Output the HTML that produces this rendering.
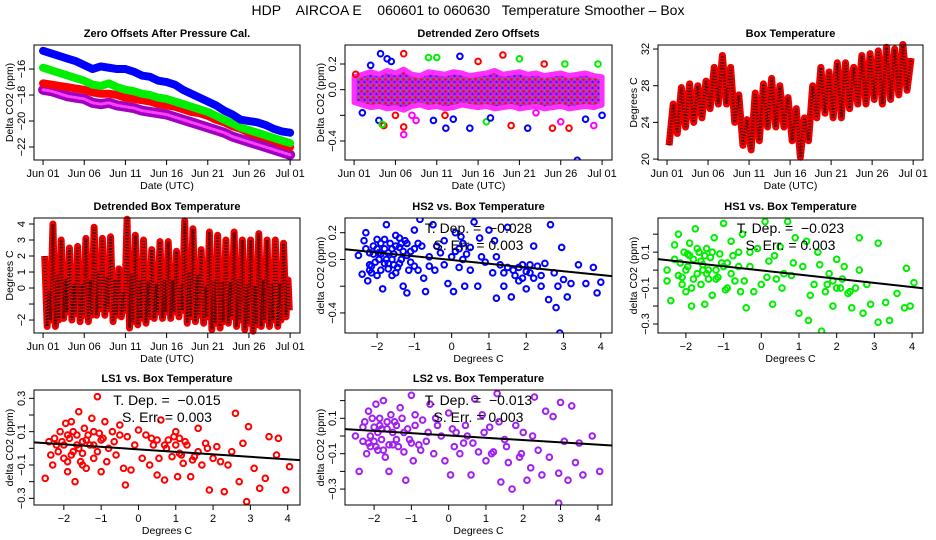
<!DOCTYPE html>
<html><head><meta charset="utf-8"><style>
html,body{margin:0;padding:0;background:#fff;}
svg{display:block;font-family:"Liberation Sans",sans-serif;}
</style></head><body>
<svg id="chart" width="936" height="540" viewBox="0 0 936 540" xmlns="http://www.w3.org/2000/svg">
<defs>
<pattern id="mixdots" width="6" height="6" patternUnits="userSpaceOnUse">
<rect width="6" height="6" fill="#d020e0"/>
<circle cx="1.5" cy="1.5" r="1.2" fill="#ff0000"/>
<circle cx="4.5" cy="4" r="1.1" fill="#2020ff"/>
<circle cx="4.5" cy="1" r="0.8" fill="#00e000"/>
</pattern>
</defs>
<text x="468" y="15" text-anchor="middle" font-size="14" style="white-space:pre">HDP    AIRCOA E    060601 to 060630   Temperature Smoother – Box</text>
<g id="root"></g>
</svg>
<script>
// ---------- data ----------
const dateTicks = [0,5,10,15,20,25,30];
const dateLabels = ["Jun 01","Jun 06","Jun 11","Jun 16","Jun 21","Jun 26","Jul 01"];
const blueOffsets = [-14.6,-14.8,-15.0,-15.2,-15.4,-15.7,-16.0,-15.8,-15.9,-16.0,-16.0,-16.2,-16.5,-16.6,-16.9,-17.0,-17.2,-17.6,-17.9,-18.2,-18.5,-18.8,-19.2,-19.5,-19.9,-20.0,-20.1,-20.3,-20.6,-20.8,-20.9];
const greenOffsets = [-15.9,-16.1,-16.3,-16.5,-16.7,-16.9,-17.2,-17.3,-17.1,-17.4,-17.6,-17.7,-17.9,-18.0,-18.2,-18.3,-18.5,-18.7,-18.9,-19.1,-19.3,-19.6,-19.9,-20.2,-20.5,-20.7,-20.9,-21.1,-21.3,-21.5,-21.7];
const redOffsets = [-17.1,-17.2,-17.3,-17.4,-17.5,-17.6,-17.8,-17.9,-17.9,-18.0,-18.2,-18.3,-18.4,-18.5,-18.7,-18.8,-18.9,-19.1,-19.3,-19.4,-19.6,-19.9,-20.1,-20.4,-20.6,-20.9,-21.1,-21.3,-21.5,-21.8,-22.0];
const magentaOffsets = [-17.6,-17.7,-17.9,-18.1,-18.2,-18.3,-18.6,-18.7,-18.6,-18.8,-18.9,-19.0,-19.2,-19.3,-19.4,-19.5,-19.7,-19.9,-20.1,-20.3,-20.5,-20.7,-20.9,-21.2,-21.4,-21.6,-21.8,-22.0,-22.2,-22.4,-22.6];
const bandTop = [0.1,0.12,0.14,0.12,0.15,0.13,0.16,0.12,0.11,0.14,0.13,0.12,0.14,0.13,0.11,0.12,0.13,0.15,0.12,0.13,0.14,0.12,0.13,0.11,0.12,0.13,0.11,0.12,0.13,0.11,0.1];
const bandBottom = [-0.1,-0.12,-0.14,-0.13,-0.15,-0.14,-0.16,-0.13,-0.12,-0.14,-0.13,-0.15,-0.14,-0.12,-0.13,-0.14,-0.13,-0.15,-0.14,-0.13,-0.15,-0.14,-0.13,-0.15,-0.14,-0.13,-0.15,-0.14,-0.13,-0.14,-0.12];
const outDays = [0.2,1,2,3.2,3,3.6,3.4,4,4.5,5,6,6,6,7,7.5,9,9.6,10,11,12,12.8,11.1,14,15,16,16.5,18,19,20,21,22,23,24,25,25.5,26,27,28,29,29.5,30];
const outVals = [0.12,-0.18,0.19,0.28,-0.24,-0.28,-0.27,0.24,0.22,-0.2,0.28,-0.35,-0.29,-0.2,-0.24,0.25,-0.24,0.25,-0.2,-0.23,0.26,-0.3,-0.3,0.22,-0.25,-0.22,0.27,-0.28,0.24,-0.3,-0.18,0.2,-0.3,-0.25,0.2,-0.3,-0.55,-0.23,-0.28,0.2,-0.2];
const outSeries = ["r","b","b","b","b","r","g","b","b","r","r","m","r","m","m","g","b","g","r","b","b","b","b","r","g","b","r","r","g","b","m","r","r","m","g","r","b","b","m","g","b"];
const tempLow = [21.5,22.8,23.5,24,24.5,25.5,26,26,24,21.5,21,22,23.5,23.5,23.5,22,20.2,22,24.5,25,24.5,24.5,25.5,26,26,26.5,26,26.5,27,27.5];
const tempHigh = [26,27.8,28.2,28,28.5,30,31.3,30,27,24.3,27.2,28.2,28.8,28,26.7,25.5,24.5,28,30,29.5,30.5,30.5,30,31.3,31.5,31.8,32.2,32,32.5,31];
const dtHigh = [2,4,3,2.5,2.6,3.1,3.8,3.1,3.2,1.2,4.3,3.3,3,2.4,2.9,2.9,2.3,4.2,3.7,2.4,3.5,3.3,3,3.5,3,3,3.4,3,3,2.8];
const dtLow = [-2.4,-2.4,-1.9,-2.0,-2.1,-2.1,-1.7,-1.7,-2.1,-1.8,-2.5,-2.3,-2.2,-1.9,-1.9,-1.9,-1.8,-2.2,-2.1,-2.2,-2.6,-2.5,-2.2,-2.4,-2.6,-2.7,-2.4,-2.4,-2.4,-1.8];

const hs2X = [-2.5,-2.4,-2.35,-2.3,-2.25,-2.2,-2.15,-2.1,-2.05,-2.0,-1.95,-1.9,-1.85,-1.8,-1.75,-1.7,-1.65,-1.6,-1.55,-1.5,-1.45,-1.4,-1.35,-1.3,-1.25,-1.2,-1.1,-1.0,-0.9,-0.85,-0.8,-0.75,-0.7,-0.6,-0.5,-0.45,-0.3,-0.2,-0.1,0.0,0.05,0.1,0.2,0.3,0.35,0.4,0.5,0.6,0.7,0.75,0.9,1.0,1.1,1.15,1.2,1.3,1.4,1.5,1.6,1.65,1.8,1.9,2.0,2.1,2.2,2.3,2.4,2.5,2.6,2.65,2.75,2.8,2.85,2.9,2.95,3.0,3.1,3.2,3.4,3.6,3.8,3.9,4.0,-2.2,-2.0,-1.9,-1.8,-1.7,-1.6,-1.5,-1.4,-1.2,-1.0,-0.9,-0.6,0.2,0.25,1.7,1.9,2.2,2.0,1.5,0.8,-2.3,-2.2,-2.1,-2.0,-1.9,-1.8,-1.7,-1.6,-1.5,-1.4,-1.3,-1.2,-1.1,-1.0,-2.15,-1.95,-1.75,-1.55,-1.35,-1.15,-0.4,-0.2,0.1,0.3,0.5,1.2,1.4,1.8,2.1,2.4];
const hs2Y = [0.03,-0.11,0.14,0.2,-0.16,0.05,-0.05,0.1,-0.02,0.15,0.0,-0.08,-0.22,0.08,0.26,-0.03,0.12,-0.12,0.04,0.18,-0.06,0.09,0.0,-0.2,0.14,-0.25,0.06,0.22,-0.08,0.3,0.1,-0.14,-0.24,0.02,0.26,-0.08,0.05,0.14,-0.18,0.02,-0.24,0.2,-0.06,0.12,-0.2,0.04,-0.08,0.28,-0.2,0.16,-0.02,0.22,-0.1,0.14,-0.29,-0.04,-0.2,0.24,-0.28,-0.08,-0.16,-0.04,-0.22,-0.1,0.1,-0.05,-0.2,-0.03,-0.3,0.26,-0.1,-0.36,-0.2,-0.55,0.09,-0.15,-0.28,-0.18,-0.04,-0.18,-0.06,-0.25,-0.17,-0.08,-0.12,0.12,-0.03,0.05,0.0,-0.1,0.16,0.03,-0.05,0.12,-0.05,0.08,0.17,-0.12,-0.14,-0.14,-0.09,-0.06,0.02,0.08,-0.04,0.04,0.08,0.04,0.15,-0.07,0.08,0.1,-0.03,0.06,0.12,-0.02,0.08,-0.1,0.05,0.0,-0.04,0.12,-0.08,0.1,-0.04,0.06,0.0,0.09,0.02,-0.1,-0.06,-0.04,-0.12];
const hs1X = [-2.5,-2.5,-2.4,-2.3,-2.2,-2.15,-2.1,-2.05,-2.0,-1.95,-1.9,-1.85,-1.8,-1.75,-1.7,-1.65,-1.6,-1.55,-1.5,-1.45,-1.4,-1.35,-1.3,-1.25,-1.2,-1.1,-1.0,-0.95,-0.9,-0.8,-0.7,-0.6,-0.55,-0.5,-0.4,-0.3,-0.2,-0.1,0.0,0.1,0.2,0.3,0.4,0.5,0.7,0.8,0.9,1.0,1.1,1.2,1.25,1.4,1.5,1.6,1.7,1.8,1.9,2.0,2.1,2.2,2.3,2.4,2.6,2.6,2.7,2.8,2.9,3.1,3.1,3.3,3.4,3.6,3.8,3.85,3.95,4.05,-2.0,-1.8,-1.6,-1.4,-1.2,-1.0,-0.8,-2.2,-1.9,-1.5,0.6,1.9,2.0,-2.3,-2.1,-1.95,-1.85,-1.7,-1.55,-1.45,-1.3,-1.15,-1.05,-0.9,-0.75,-0.6,-0.45,-0.3,0.15,0.35,0.55,0.85,1.3,1.55,1.75,2.15,2.35,2.5];
const hs1Y = [0.0,-0.06,-0.17,0.14,0.2,0.04,-0.04,0.1,-0.12,0.02,0.15,-0.2,0.06,0.23,-0.02,0.1,-0.08,0.03,-0.19,0.12,-0.05,0.07,-0.14,0.18,0.0,0.09,0.26,-0.11,0.04,0.16,-0.06,0.1,-0.12,0.2,-0.21,0.02,-0.12,0.12,-0.08,0.27,0.05,-0.19,-0.05,0.13,0.27,-0.03,0.18,-0.24,0.02,0.16,-0.28,-0.08,0.1,-0.34,-0.12,-0.02,-0.2,0.06,-0.1,0.02,-0.13,-0.21,0.0,0.18,-0.24,-0.08,-0.19,0.15,-0.29,-0.18,-0.28,-0.13,-0.21,0.01,-0.2,-0.07,0.0,-0.05,0.05,0.0,-0.05,0.02,-0.02,-0.03,0.08,0.08,-0.02,-0.06,-0.1,0.06,-0.08,0.09,-0.1,0.12,0.0,-0.02,0.1,-0.04,0.04,-0.1,0.08,0.02,-0.06,0.1,-0.04,0.08,-0.1,0.04,-0.14,0.03,-0.08,-0.05,-0.12,-0.1];
const ls1X = [-2.5,-2.4,-2.35,-2.3,-2.2,-2.1,-2.0,-1.95,-1.9,-1.85,-1.8,-1.75,-1.7,-1.65,-1.6,-1.55,-1.5,-1.45,-1.4,-1.3,-1.25,-1.2,-1.1,-1.05,-1.0,-0.9,-0.8,-0.7,-0.6,-0.5,-0.4,-0.35,-0.3,-0.2,-0.1,0.0,0.1,0.2,0.3,0.4,0.5,0.6,0.7,0.8,0.9,1.0,1.05,1.1,1.2,1.3,1.4,1.5,1.6,1.7,1.8,1.9,2.0,2.1,2.3,2.4,2.5,2.6,2.7,2.8,2.9,2.95,3.1,3.25,3.4,3.5,3.7,3.75,3.95,4.05,-2.0,-1.8,-1.6,-1.4,-1.2,-1.0,-1.9,-1.5,0.5,0.7,1.0,1.1,-2.25,-2.15,-2.05,-1.9,-1.75,-1.65,-1.5,-1.35,-1.2,-1.1,-0.95,-0.85,-0.65,-0.5,0.35,0.55,0.75,0.95,1.15,1.25,1.45,1.6,1.85,2.2];
const ls1Y = [-0.18,0.04,-0.04,-0.1,0.02,0.1,-0.06,0.15,-0.14,0.06,0.16,-0.02,-0.2,0.08,0.22,-0.08,0.04,0.12,-0.12,0.02,0.18,-0.06,0.31,0.09,-0.14,0.16,0.0,0.1,-0.04,0.14,-0.12,-0.22,0.07,-0.13,0.02,0.11,-0.06,0.08,-0.1,0.02,-0.16,0.17,-0.19,0.05,-0.05,0.1,-0.17,0.06,-0.09,0.02,-0.17,-0.05,0.12,-0.1,0.03,-0.25,-0.06,0.01,-0.26,-0.1,-0.02,0.21,-0.2,0.03,-0.32,0.13,-0.12,-0.24,-0.18,0.07,-0.04,0.06,-0.25,-0.11,0.02,-0.04,0.0,0.05,0.02,0.05,0.08,-0.03,0.05,0.02,0.02,-0.03,0.06,-0.02,0.04,-0.08,0.1,0.02,-0.1,0.08,0.1,-0.02,0.06,-0.08,0.04,0.08,0.06,-0.06,0.0,0.07,-0.04,0.04,-0.07,-0.02,0.0,-0.08];
const ls2X = [-2.5,-2.4,-2.3,-2.25,-2.2,-2.15,-2.1,-2.0,-1.95,-1.9,-1.85,-1.8,-1.75,-1.7,-1.65,-1.6,-1.55,-1.5,-1.45,-1.4,-1.3,-1.2,-1.15,-1.1,-1.0,-0.95,-0.9,-0.8,-0.7,-0.6,-0.5,-0.4,-0.3,-0.2,-0.1,0.0,0.05,0.1,0.3,0.5,0.6,0.7,0.8,0.9,1.0,1.1,1.2,1.3,1.4,1.5,1.6,1.7,1.8,1.9,2.0,2.1,2.2,2.3,2.4,2.5,2.6,2.7,2.8,2.95,2.95,3.0,3.1,3.2,3.3,3.4,3.5,3.6,3.85,4.05,-2.0,-1.8,-1.6,-1.4,-1.2,-1.0,-1.9,-2.1,0.2,0.4,-2.3,-2.15,-2.05,-1.95,-1.85,-1.75,-1.65,-1.5,-1.35,-1.25,-1.05,-0.9,-0.75,-0.55,-0.35,0.15,0.45,0.65,0.95,1.15,1.35,1.55,1.95,2.25];
const ls2Y = [0.0,-0.2,-0.03,0.08,-0.1,0.14,-0.06,0.05,0.18,-0.08,0.1,-0.02,0.2,-0.12,0.04,-0.2,0.12,-0.05,0.08,-0.02,0.16,-0.09,-0.25,0.04,0.23,-0.14,0.12,-0.05,0.09,-0.03,0.18,-0.1,0.06,0.0,-0.14,0.13,-0.22,0.04,-0.1,0.0,-0.22,0.21,-0.09,0.12,-0.14,0.05,-0.09,0.24,-0.26,-0.02,-0.15,-0.3,0.06,-0.12,0.02,-0.25,-0.18,0.22,-0.08,-0.22,0.14,-0.12,0.11,-0.21,-0.38,0.19,-0.03,-0.25,0.17,-0.15,-0.04,-0.22,0.0,-0.2,-0.03,0.04,-0.05,0.06,0.02,-0.04,0.02,0.0,0.02,-0.04,0.05,-0.04,0.1,-0.06,0.06,-0.08,0.08,0.02,-0.06,0.1,-0.02,0.06,-0.08,0.02,0.1,-0.06,0.06,-0.04,0.02,-0.1,0.08,-0.06,-0.1,0.0];
const slopes = [-0.028,-0.023,-0.015,-0.013];
const intercepts = [-0.004,-0.002,-0.006,0.003];
const depLabels = ["−0.028","−0.023","−0.015","−0.013"];
const errLabels = ["0.003","0.003","0.003","0.003"];
const degTicks = [-2,-1,0,1,2,3,4];

// ---------- helpers ----------
const NS="http://www.w3.org/2000/svg";
const root=document.getElementById('root');
function mk(tag,attrs,parent){const e=document.createElementNS(NS,tag);for(const k in attrs)e.setAttribute(k,attrs[k]);(parent||root).appendChild(e);return e;}
function fmt(v){return String(v).replace('-','−');}
function panel(name,box,xd,yd){
  const g=mk('g',{});
  
  
  const sx=v=>box[0]+(v-xd[0])/(xd[1]-xd[0])*(box[2]-box[0]);
  const sy=v=>box[3]-(v-yd[0])/(yd[1]-yd[0])*(box[3]-box[1]);
  return {g,sx,sy,box};
}
function frame(p,title,xt,xl,yt,yl,xlab,ylab){
  const [l,t,r,b]=p.box;
  const fr=mk('rect',{x:l,y:t,width:r-l,height:b-t,fill:'none',stroke:'#000','stroke-width':1},p.g);
  
  
  const tt=mk('text',{x:(l+r)/2,y:t-8,'text-anchor':'middle','font-size':11,'font-weight':'bold'},p.g);
  tt.textContent=title;
  
  
  const xa=mk('g',{},p.g);
  
  
  xt.forEach((v,i)=>{const x=p.sx(v);mk('line',{x1:x,x2:x,y1:b,y2:b+5,stroke:'#000'},xa);
    const tx=mk('text',{x:x,y:b+17,'text-anchor':'middle','font-size':11},xa);tx.textContent=xl[i];
    
    });
  const ya=mk('g',{},p.g);
  
  
  yt.forEach((v,i)=>{const y=p.sy(v);mk('line',{x1:l-5,x2:l,y1:y,y2:y,stroke:'#000'},ya);
    if(yl[i]!==''){const tx=mk('text',{x:l-9,y:y,'text-anchor':'middle','font-size':11,transform:`rotate(-90 ${l-9} ${y})`},ya);tx.textContent=yl[i];
    
    }});
  const xt2=mk('text',{x:(l+r)/2,y:b+29,'text-anchor':'middle','font-size':10.5},p.g);xt2.textContent=xlab;
  
  
  const yx=l-21,yy=(t+b)/2;
  const yt2=mk('text',{x:yx,y:yy,'text-anchor':'middle','font-size':10.5,transform:`rotate(-90 ${yx} ${yy})`},p.g);yt2.textContent=ylab;
  
  
}
function clip(p,id){const c=mk('clipPath',{id:id},p.g);mk('rect',{x:p.box[0],y:p.box[1],width:p.box[2]-p.box[0],height:p.box[3]-p.box[1]},c);return mk('g',{'clip-path':`url(#${id})`},p.g);}
function series(p,arr,color,w,parent,name){
  const pts=arr.map((v,i)=>p.sx(i)+','+p.sy(v)).join(' ');
  const pl=mk('polyline',{points:pts,fill:'none',stroke:color,'stroke-width':w,'stroke-linejoin':'round','stroke-linecap':'round'},parent||p.g);
  
  
  return pl;
}
const TD=[-1.1,31.2];
// Panel 1
{const p=panel('zero-offsets-panel',[34,45,300,160],TD,[-23,-14.15]);
 series(p,magentaOffsets,'#a000c0',10,null,'ls2-offset-series');
 series(p,magentaOffsets,'#ff40ff',3,null,'ls2-offset-highlight').setAttribute('stroke-dasharray','2 2');
 series(p,redOffsets,'#ff0000',8,null,'ls1-offset-series');
 series(p,greenOffsets,'#00ee00',8,null,'hs1-offset-series');
 series(p,blueOffsets,'#0000ff',8,null,'hs2-offset-series');
 frame(p,'Zero Offsets After Pressure Cal.',dateTicks,dateLabels,[-22,-20,-18,-16],['−22','−20','−18','−16'],'Date (UTC)','Delta CO2 (ppm)');}
// Panel 2
{const p=panel('detrended-zero-offsets-panel',[345,45,612,160],TD,[-0.548,0.348]);
 const cg=clip(p,'c2');
 const top=bandTop.map((v,i)=>p.sx(i)+','+p.sy(v)), bot=bandBottom.map((v,i)=>p.sx(i)+','+p.sy(v)).reverse();
 const band=mk('polygon',{points:top.concat(bot).join(' '),fill:'url(#mixdots)',stroke:'#ff30ff','stroke-width':5,'stroke-linejoin':'round'},cg);
 
 
 const col={r:'#ff0000',b:'#0000ff',g:'#00ee00',m:'#ff00ff'};
 outDays.forEach((d,i)=>{const c=mk('circle',{cx:p.sx(d),cy:p.sy(outVals[i]),r:2.8,fill:'none',stroke:col[outSeries[i]],'stroke-width':2},cg);
  
  });
 frame(p,'Detrended Zero Offsets',dateTicks,dateLabels,[-0.4,-0.2,0,0.2],['−0.4','','0.0','0.2'],'Date (UTC)','Delta CO2 (ppm)');}
// Panel 3
{const p=panel('box-temperature-panel',[658,45,923,160],TD,[19.9,32.44]);
 const arr=[];tempLow.forEach((v,i)=>{arr.push([i+0.25,v]);arr.push([i+0.75,tempHigh[i]]);});
 const pts=arr.map(a=>p.sx(a[0])+','+p.sy(a[1])).join(' ');
 const l1=mk('polyline',{points:pts,fill:'none',stroke:'#ee0000','stroke-width':7,'stroke-linejoin':'round'},p.g);
 
 
 const l2=mk('polyline',{points:pts,fill:'none',stroke:'#300000','stroke-width':3,'stroke-dasharray':'1 2'},p.g);
 
 
 frame(p,'Box Temperature',dateTicks,dateLabels,[20,24,28,32],['20','24','28','32'],'Date (UTC)','Degrees C');}
// Panel 4
{const p=panel('detrended-box-temp-panel',[34,218,300,333],TD,[-2.81,4.375]);
 const arr=[];dtLow.forEach((v,i)=>{arr.push([i+0.2,dtHigh[i]]);arr.push([i+0.5,v]);arr.push([i+0.75,(dtHigh[i]+v)/2]);arr.push([i+0.9,v+0.4]);});
 const pts=arr.map(a=>p.sx(a[0])+','+p.sy(a[1])).join(' ');
 const l1=mk('polyline',{points:pts,fill:'none',stroke:'#ee0000','stroke-width':7,'stroke-linejoin':'round'},p.g);
 
 
 const l2=mk('polyline',{points:pts,fill:'none',stroke:'#300000','stroke-width':3,'stroke-dasharray':'1 2'},p.g);
 
 
 frame(p,'Detrended Box Temperature',dateTicks,dateLabels,[-2,-1,0,1,2,3,4],['−2','','0','1','2','3','4'],'Date (UTC)','Degrees C');}
// Scatter panels
function scatter(idx,name,title,box,xd,yd,xs,ys,color,yt,yl){
  const p=panel(name,box,xd,yd);
  const cg=clip(p,'cs'+idx);
  xs.forEach((x,i)=>{const c=mk('circle',{cx:p.sx(x),cy:p.sy(ys[i]),r:2.8,fill:'none',stroke:color,'stroke-width':2},cg);
    
    });
  const ln=mk('line',{x1:p.sx(xd[0]),y1:p.sy(intercepts[idx]+slopes[idx]*xd[0]),x2:p.sx(xd[1]),y2:p.sy(intercepts[idx]+slopes[idx]*xd[1]),stroke:'#000','stroke-width':2},cg);
  
  
  const cx=(box[0]+box[2])/2;
  const t1=mk('text',{x:cx,y:box[1]+15,'text-anchor':'middle','font-size':14,style:'white-space:pre'},p.g);t1.textContent='T. Dep. =  '+depLabels[idx];
  
  
  const t2=mk('text',{x:cx,y:box[1]+32,'text-anchor':'middle','font-size':14,style:'white-space:pre'},p.g);t2.textContent='S. Err. = '+errLabels[idx];
  
  
  frame(p,title,degTicks,degTicks.map(fmt),yt,yl,'Degrees C','delta CO2 (ppm)');
}
scatter(0,'hs2-scatter-panel','HS2 vs. Box Temperature',[345,218,612,333],[-2.86,4.3],[-0.55,0.31],hs2X,hs2Y,'#0000ff',[-0.4,-0.2,0,0.2],['−0.4','','0.0','0.2']);
scatter(1,'hs1-scatter-panel','HS1 vs. Box Temperature',[658,218,923,333],[-2.74,4.29],[-0.35,0.29],hs1X,hs1Y,'#00ee00',[-0.3,-0.2,-0.1,0,0.1,0.2],['−0.3','','−0.1','','0.1','']);
scatter(2,'ls1-scatter-panel','LS1 vs. Box Temperature',[34,390,300,505],[-2.8,4.33],[-0.34,0.35],ls1X,ls1Y,'#ff0000',[-0.3,-0.2,-0.1,0,0.1,0.2,0.3],['−0.3','','−0.1','','0.1','','0.3']);
scatter(3,'ls2-scatter-panel','LS2 vs. Box Temperature',[345,390,612,505],[-2.78,4.38],[-0.39,0.26],ls2X,ls2Y,'#a020f0',[-0.3,-0.2,-0.1,0,0.1,0.2],['−0.3','','−0.1','','0.1','']);
</script>
</body></html>
